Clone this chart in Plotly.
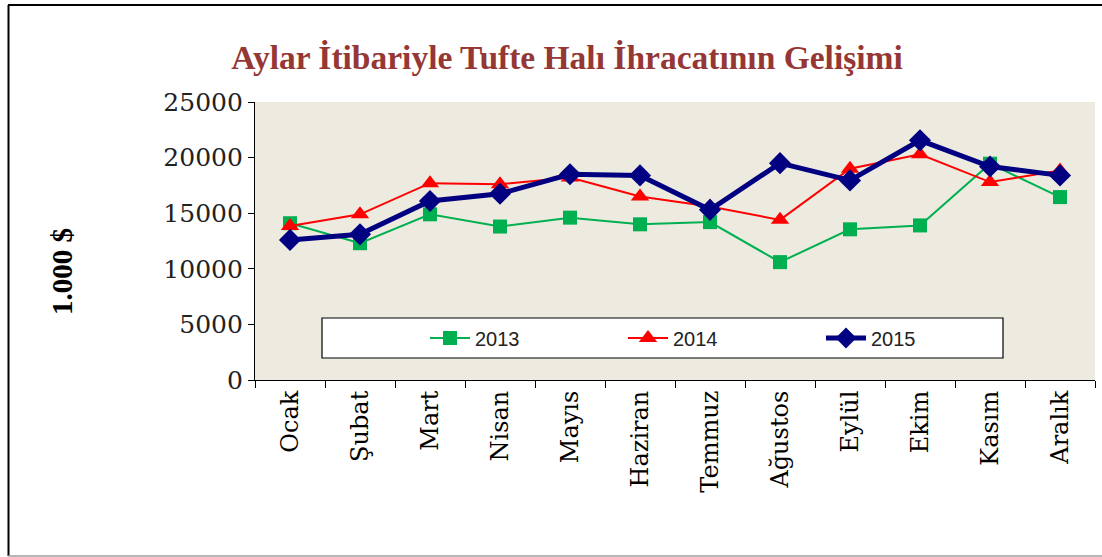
import plotly.graph_objects as go

months = ["Ocak", "Şubat", "Mart", "Nisan", "Mayıs", "Haziran", "Temmuz",
          "Ağustos", "Eylül", "Ekim", "Kasım", "Aralık"]
y2013 = [14100, 12300, 14900, 13800, 14600, 14000, 14200, 10600, 13550, 13900, 19450, 16450]
y2014 = [13850, 14900, 17700, 17600, 18200, 16500, 15600, 14400, 19000, 20300, 17800, 18850]
y2015 = [12600, 13100, 16100, 16750, 18500, 18400, 15300, 19500, 17950, 21550, 19200, 18400]

W, H = 1102, 557
L, R, T, B = 255, 1095, 102, 380

def px_x(p):
    return (p - L) / (R - L)

def px_y(p):
    return (B - p) / (B - T)

fig = go.Figure()
fig.add_trace(go.Scatter(x=months, y=y2013, name="2013", mode="lines+markers",
                         line=dict(color="#00B050", width=2),
                         marker=dict(symbol="square", size=14, color="#00B050")))
fig.add_trace(go.Scatter(x=months, y=y2014, name="2014", mode="lines+markers",
                         line=dict(color="#FF0000", width=2),
                         marker=dict(symbol="triangle-up", size=16, color="#FF0000")))
fig.add_trace(go.Scatter(x=months, y=y2015, name="2015", mode="lines+markers",
                         line=dict(color="#000080", width=5),
                         marker=dict(symbol="diamond", size=17, color="#000080")))

shapes = [
    dict(type="rect", xref="paper", yref="paper",
         x0=px_x(322), x1=px_x(1003), y0=px_y(358), y1=px_y(318),
         line=dict(color="black", width=1.2), fillcolor="white", layer="below"),
    dict(type="line", xref="paper", yref="paper",
         x0=px_x(8), x1=px_x(1102), y0=px_y(5), y1=px_y(5),
         line=dict(color="black", width=2)),
    dict(type="line", xref="paper", yref="paper",
         x0=px_x(8.5), x1=px_x(8.5), y0=px_y(5), y1=px_y(556),
         line=dict(color="black", width=2)),
    dict(type="line", xref="paper", yref="paper",
         x0=px_x(8), x1=px_x(1102), y0=px_y(556), y1=px_y(556),
         line=dict(color="#A0A0A0", width=1.5)),
]

fig.update_layout(
    width=W, height=H,
    margin=dict(l=L, r=W - R, t=T, b=H - B),
    paper_bgcolor="white",
    plot_bgcolor="#EDEAE0",
    shapes=shapes,
    title=dict(text="<b>Aylar İtibariyle Tufte Halı İhracatının Gelişimi</b>",
               font=dict(family="Liberation Serif", size=33.5, color="#953735"),
               x=567 / W, xanchor="center", xref="container",
               y=1 - 57 / H, yanchor="middle", yref="container"),
    showlegend=True,
    legend=dict(orientation="h", x=px_x(425), xanchor="left",
                y=px_y(338), yanchor="middle",
                bgcolor="rgba(0,0,0,0)", borderwidth=0,
                font=dict(family="Liberation Sans Narrow, Liberation Sans", size=20, color="#222"),
                entrywidth=143, entrywidthmode="pixels", itemwidth=40,
                tracegroupgap=0),
    annotations=[dict(text="<b>1.000 $</b>", xref="paper", yref="paper",
                      x=px_x(62), y=px_y(272), xanchor="center", yanchor="middle",
                      showarrow=False, textangle=-90,
                      font=dict(family="Liberation Serif", size=29, color="black"))],
)

fig.update_xaxes(type="category", showline=True, linecolor="black", linewidth=1.2,
                 ticks="outside", tickson="boundaries", ticklen=7, tickcolor="black",
                 tickangle=-90, showgrid=False,
                 tickfont=dict(family="DejaVu Serif", size=24, color="black"),
                 range=[-0.5, 11.5])
fig.update_yaxes(range=[0, 25000], dtick=5000, tickformat="d",
                 showline=True, linecolor="black", linewidth=1.2,
                 ticks="outside", ticklen=6, tickcolor="black", showgrid=False, zeroline=False,
                 tickfont=dict(family="DejaVu Serif", size=25, color="#222"))

fig.write_html("out.html", config={"displayModeBar": False},
               post_script="document.body.style.margin='0px';")
